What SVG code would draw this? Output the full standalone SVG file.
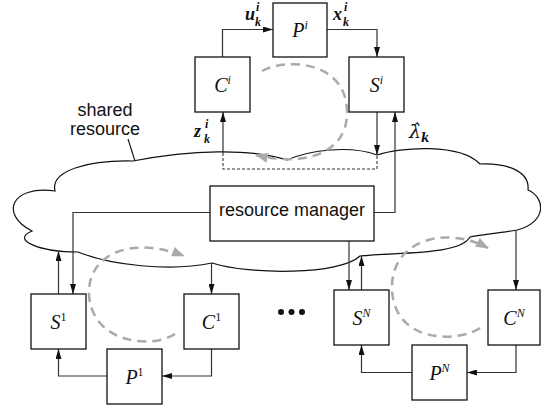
<svg xmlns="http://www.w3.org/2000/svg" width="541" height="412" viewBox="0 0 541 412">
<defs>
<marker id="ah" markerUnits="userSpaceOnUse" markerWidth="10" markerHeight="6" refX="10" refY="3" orient="auto"><path d="M0,0 L10,3 L0,6 z" fill="#111"/></marker>
<marker id="gh" markerUnits="userSpaceOnUse" markerWidth="14" markerHeight="10" refX="12" refY="5" orient="auto"><path d="M0,0 L13,5 L0,10 z" fill="#aaa"/></marker>
<style>
.box{fill:#fff;stroke:#111;stroke-width:1.3}
.ln{fill:none;stroke:#333;stroke-width:1.2}
.dash{fill:none;stroke:#333;stroke-width:1.1;stroke-dasharray:3,2}
.gray{fill:none;stroke:#aaa;stroke-width:2.5;stroke-dasharray:9,6}
.cloud{fill:#fff;stroke:#111;stroke-width:1.2}
.sans{font-family:"Liberation Sans",Arial,sans-serif;font-size:18px;fill:#111}
.m{font-family:"Liberation Serif","DejaVu Serif",serif;font-style:italic;fill:#111}
</style>
</defs>
<path class="cloud" d="M133,161 C190,150 250,148 287,160 C310,150 350,145 377,155 C400,147 460,143 480,164 C505,163 530,170 528,190 C545,197 548,222 517,230 C500,233 480,235 470,237 C460,255 400,252 360,256 C340,275 250,275 212,263 C170,272 110,265 78,252 C40,252 10,240 32,231 C0,215 10,185 55,191 C50,170 90,160 133,161 Z"/>
<g id="label-shared">
<text class="sans" x="105" y="116" text-anchor="middle">shared</text>
<text class="sans" x="105" y="135" text-anchor="middle">resource</text>
<line x1="128" y1="139" x2="135" y2="161" stroke="#111" stroke-width="1.1"/>
</g>
<g id="loops">
<path class="gray" d="M262,71 C285,58 345,60 347,110 C349,150 310,168 256,155" marker-end="url(#gh)"/>
<path class="gray" d="M175,334 C150,350 92,342 89,295 C87,255 130,235 184,256" marker-end="url(#gh)"/>
<path class="gray" d="M480,328 C460,342 395,345 392,290 C390,240 445,225 488,248" marker-end="url(#gh)"/>
</g>
<g id="connectors">
<path class="ln" d="M222.5,57 V29.5 H273" marker-end="url(#ah)"/>
<path class="ln" d="M327,29.5 H377 V57" marker-end="url(#ah)"/>
<path class="ln" d="M377,112 V155" marker-end="url(#ah)"/>
<path class="ln" d="M374,212.5 H395 V112" marker-end="url(#ah)"/>
<path class="ln" d="M223,153 V112" marker-end="url(#ah)"/>
<path class="dash" d="M223,153 V169 H377 V155"/>
<path class="ln" d="M210,212.5 H73 V294" marker-end="url(#ah)"/>
<path class="ln" d="M58.5,294 V251" marker-end="url(#ah)"/>
<path class="ln" d="M211.5,263 V294" marker-end="url(#ah)"/>
<path class="ln" d="M211.5,349 V376 H162" marker-end="url(#ah)"/>
<path class="ln" d="M107,376 H58.5 V349" marker-end="url(#ah)"/>
<path class="ln" d="M349,241 V290" marker-end="url(#ah)"/>
<path class="ln" d="M361.5,290 V256" marker-end="url(#ah)"/>
<path class="ln" d="M516,230 V290" marker-end="url(#ah)"/>
<path class="ln" d="M516,345 V372.5 H467" marker-end="url(#ah)"/>
<path class="ln" d="M412,372.5 H361.5 V345" marker-end="url(#ah)"/>
</g>
<g id="edge-labels">
<text class="m" x="245" y="20" font-size="18" font-weight="bold">u</text>
<text class="m" x="256" y="11" font-size="12" font-weight="bold">i</text>
<text class="m" x="255" y="26" font-size="12" font-weight="bold">k</text>
<text class="m" x="333" y="20" font-size="18" font-weight="bold">x</text>
<text class="m" x="344" y="11" font-size="12" font-weight="bold">i</text>
<text class="m" x="343" y="26" font-size="12" font-weight="bold">k</text>
<text class="m" x="194" y="137" font-size="18" font-weight="bold">z</text>
<text class="m" x="205" y="128" font-size="12" font-weight="bold">i</text>
<text class="m" x="204" y="143" font-size="12" font-weight="bold">k</text>
<text x="409" y="138" font-size="19" style="font-family:'DejaVu Serif',serif;font-style:italic;fill:#111">λ̂<tspan font-size="12" font-weight="bold" dy="4">k</tspan></text>
</g>
<g id="resource-manager">
<rect class="box" x="210" y="186" width="164" height="55"/>
<text class="sans" x="292" y="216" text-anchor="middle">resource manager</text>
</g>
<g id="Pi"><rect class="box" x="273" y="3" width="54" height="54"/><text class="m" x="300" y="37" font-size="20" text-anchor="middle">P<tspan font-size="12" dy="-8">i</tspan></text></g>
<g id="Ci"><rect class="box" x="195" y="57" width="55" height="55"/><text class="m" x="222.5" y="92" font-size="20" text-anchor="middle">C<tspan font-size="12" dy="-8">i</tspan></text></g>
<g id="Si"><rect class="box" x="349" y="57" width="55" height="55"/><text class="m" x="376.5" y="92" font-size="20" text-anchor="middle">S<tspan font-size="12" dy="-8">i</tspan></text></g>
<g id="S1"><rect class="box" x="31" y="294" width="55" height="55"/><text class="m" x="58.5" y="329" font-size="20" text-anchor="middle">S<tspan font-size="12" dy="-8" font-style="normal">1</tspan></text></g>
<g id="C1"><rect class="box" x="184" y="294" width="55" height="55"/><text class="m" x="211.5" y="329" font-size="20" text-anchor="middle">C<tspan font-size="12" dy="-8" font-style="normal">1</tspan></text></g>
<g id="P1"><rect class="box" x="107" y="349" width="55" height="55"/><text class="m" x="134.5" y="384" font-size="20" text-anchor="middle">P<tspan font-size="12" dy="-8" font-style="normal">1</tspan></text></g>
<g id="SN"><rect class="box" x="334" y="290" width="55" height="55"/><text class="m" x="361.5" y="325" font-size="20" text-anchor="middle">S<tspan font-size="12" dy="-8">N</tspan></text></g>
<g id="CN"><rect class="box" x="488" y="290" width="52" height="55"/><text class="m" x="514" y="325" font-size="20" text-anchor="middle">C<tspan font-size="12" dy="-8">N</tspan></text></g>
<g id="PN"><rect class="box" x="412" y="345" width="55" height="55"/><text class="m" x="439.5" y="380" font-size="20" text-anchor="middle">P<tspan font-size="12" dy="-8">N</tspan></text></g>
<g id="dots" fill="#111"><circle cx="281" cy="312" r="3"/><circle cx="291.5" cy="312" r="3"/><circle cx="302" cy="312" r="3"/></g>
</svg>
